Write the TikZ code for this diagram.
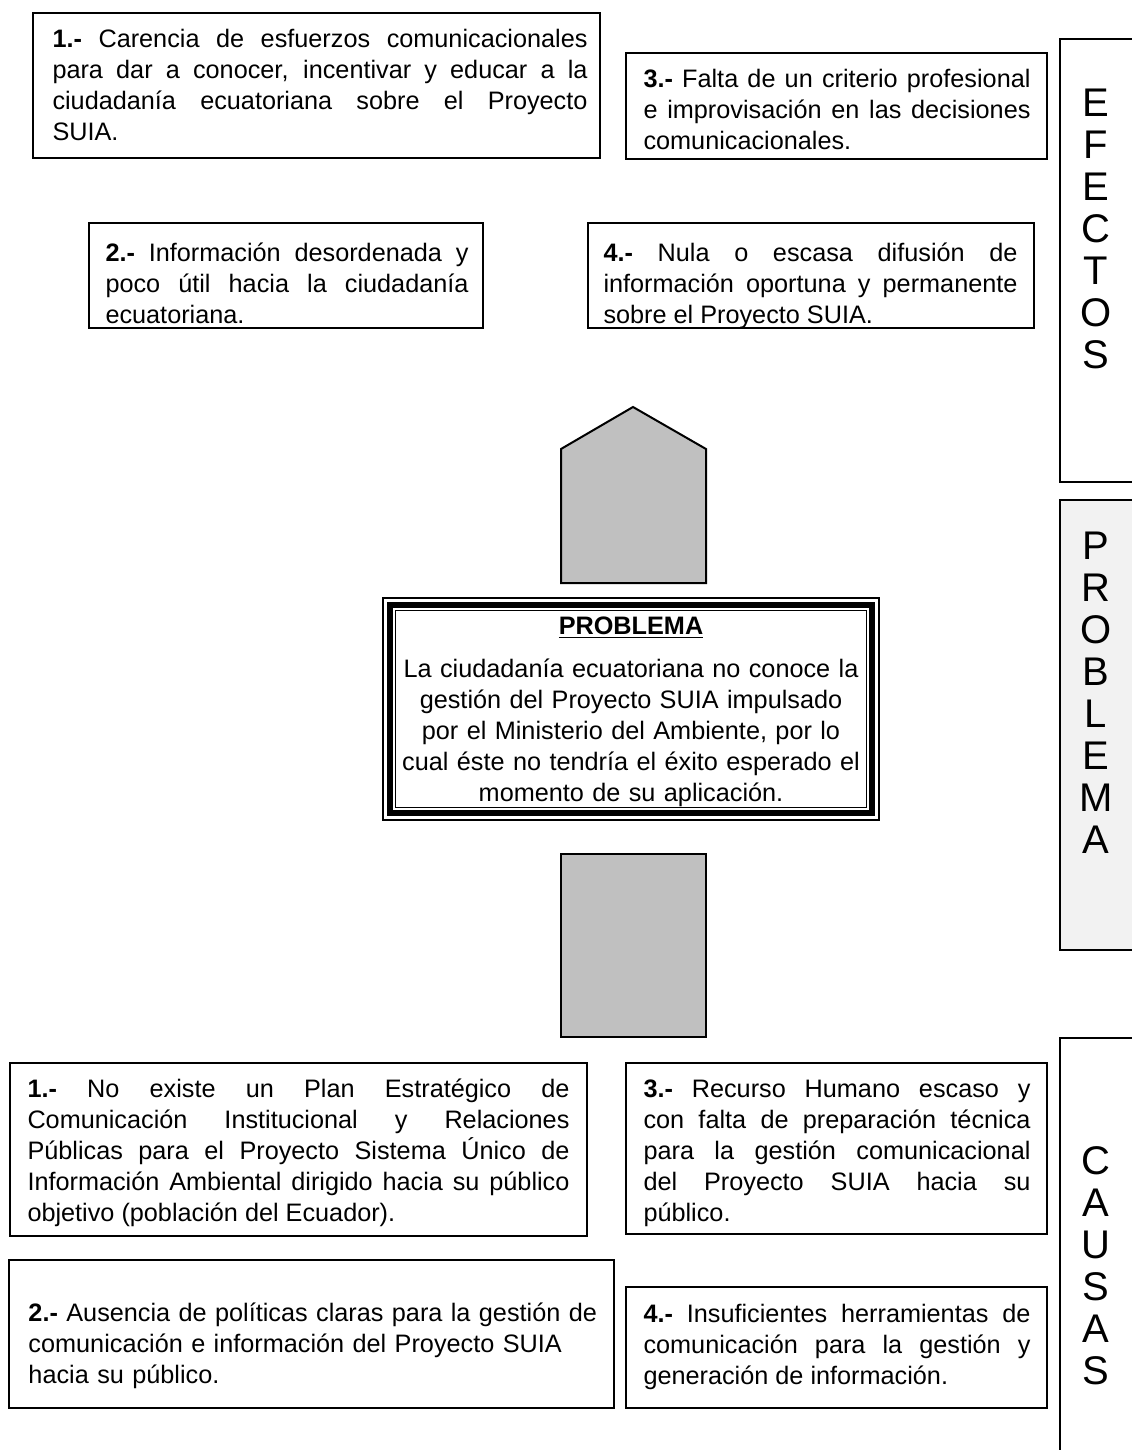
\documentclass[tikz,border=0pt]{standalone}
\usepackage{fontspec}
\setmainfont{Liberation Sans}
\usepackage{tikz}

\definecolor{gris}{HTML}{C0C0C0}
\definecolor{grisclaro}{HTML}{F2F2F2}

\tikzset{
  caja/.style={draw=black, line width=0.6pt},
  flecha/.style={draw=black, line width=0.8pt, fill=gris},
  texto/.style={anchor=base west, inner sep=0pt, align=justify,
    font={\fontsize{10.1}{12.4}\selectfont\hyphenpenalty=10000\tolerance=9999}},
  letras/.style={anchor=base, inner sep=0pt, align=center, text width=20pt,
    font={\fontsize{16}{16.8}\selectfont}}
}

\begin{document}
\begin{tikzpicture}[x=0.4pt, y=-0.4pt]
\useasboundingbox (0,0) rectangle (1131,1450);

% efectos
\draw[caja]
(33,13) rectangle (600,158)
(626,53) rectangle (1047,159)
(89,223) rectangle (483,328)
(588,223) rectangle (1034,328);

\node[texto, text width=214pt] (ef1) at (52,48) {\textbf{1.-} Carencia de esfuerzos comunicacionales\linebreak para dar a conocer, incentivar y educar a la\linebreak ciudadanía ecuatoriana sobre el Proyecto\linebreak SUIA.};
\node[texto, text width=154.8pt] (ef3) at (643,88) {\textbf{3.-} Falta de un criterio profesional\linebreak e improvisación en las decisiones\linebreak comunicacionales.};
\node[texto, text width=145.2pt] (ef2) at (105,262) {\textbf{2.-} Información desordenada y\linebreak poco útil hacia la ciudadanía\linebreak ecuatoriana.};
\node[texto, text width=165.6pt] (ef4) at (603,262) {\textbf{4.-} Nula o escasa difusión de\linebreak información oportuna y permanente\linebreak sobre el Proyecto SUIA.};

% flechas
\draw[flecha]
(561,583) -- (561,449) -- (633,407) -- (706,449) -- (706,583) -- cycle;
\draw[flecha]
(561,854) rectangle (706,1037);

% problema
\draw[line width=0.6pt] (383,598) rectangle (879,820);
\draw[line width=2.4pt] (390,605) rectangle (872,813);
\draw[line width=0.6pt] (395.5,610.5) rectangle (866.5,807.5);
\node[texto, anchor=base, align=center, text width=188pt] (prob) at (631,634) {\textbf{\underline{PROBLEMA}}\\[4.8pt] La ciudadanía ecuatoriana no conoce la\\ gestión del Proyecto SUIA impulsado\\ por el Ministerio del Ambiente, por lo\\ cual éste no tendría el éxito esperado el\\ momento de su aplicación.};

% causas
\draw[caja]
(10,1063) rectangle (587,1236)
(626,1063) rectangle (1047,1234)
(9,1260) rectangle (614,1408)
(626,1287) rectangle (1047,1408);

\node[texto, text width=216.8pt] (ca1) at (27,1097) {\textbf{1.-} No existe un Plan Estratégico de\linebreak Comunicación Institucional y Relaciones\linebreak Públicas para el Proyecto Sistema Único de\linebreak Información Ambiental dirigido hacia su público\linebreak objetivo (población del Ecuador).};
\node[texto, text width=154.8pt] (ca3) at (643,1097) {\textbf{3.-} Recurso Humano escaso y\linebreak con falta de preparación técnica\linebreak para la gestión comunicacional\linebreak del Proyecto SUIA hacia su\linebreak público.};
\node[texto, align=left, text width=230pt] (ca2) at (28,1321) {\textbf{2.-} Ausencia de políticas claras para la gestión de\\ comunicación e información del Proyecto SUIA\\ hacia su público.};
\node[texto, text width=154.8pt] (ca4) at (643,1322) {\textbf{4.-} Insuficientes herramientas de\linebreak comunicación para la gestión y\linebreak generación de información.};

% columna derecha
\draw[caja] (1060,39) rectangle (1140,482);
\draw[caja, fill=grisclaro] (1060,500) rectangle (1140,950);
\draw[caja] (1060,1038) rectangle (1140,1470);
\node[letras] (efectos) at (1096,117) {E\\F\\E\\C\\T\\O\\S};
\node[letras] (problema) at (1096,559) {P\\R\\O\\B\\L\\E\\M\\A};
\node[letras] (causas) at (1096,1174) {C\\A\\U\\S\\A\\S};
\end{tikzpicture}
\end{document}
